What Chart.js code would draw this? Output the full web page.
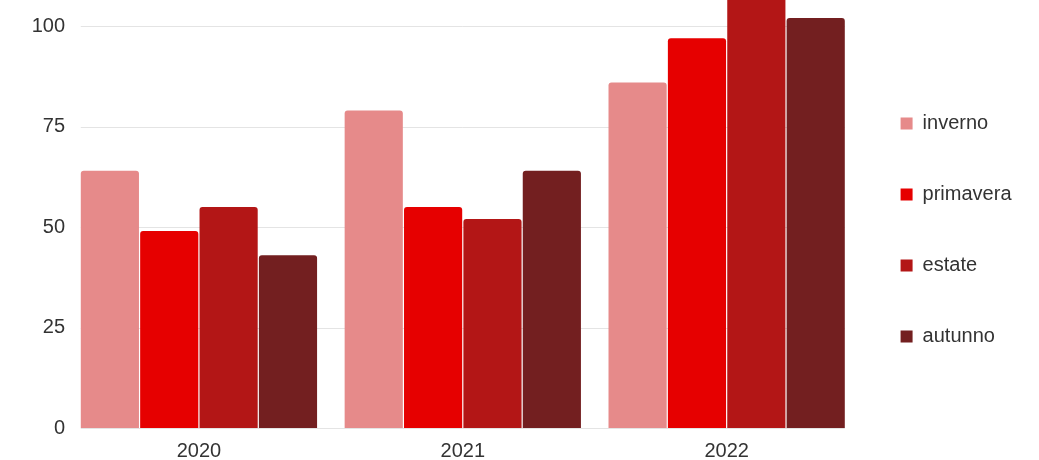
<!DOCTYPE html>
<html>
<head>
<meta charset="utf-8">
<script src="https://cdn.jsdelivr.net/npm/chart.js@4/dist/chart.umd.min.js"></script>
<style>
  html, body { margin: 0; padding: 0; background: #fff; }
  #wrap { width: 1039px; height: 460px; }
</style>
</head>
<body>
<div id="wrap"><canvas id="chartCanvas"></canvas></div>
<script>
// data
const anni = ['2020', '2021', '2022'];
const inverno = [64, 79, 86];
const primavera = [49, 55, 97];
const estate = [55, 52, 110];
const autunno = [43, 64, 102];
const yTicks = [0, 25, 50, 75, 100];

const stagioni = [
  { label: 'inverno', data: inverno, color: '#e68a8a' },
  { label: 'primavera', data: primavera, color: '#e60000' },
  { label: 'estate', data: estate, color: '#b31616' },
  { label: 'autunno', data: autunno, color: '#731f20' }
];

// gridlines only under the bars, like the original
const gridPlugin = {
  id: 'gridUnderBars',
  afterLayout(chart) {
    // pull the legend a bit closer to the plot
    chart.legend.left -= 9;
    chart.legend.right -= 9;
  },
  beforeDatasetsDraw(chart) {
    const ctx = chart.ctx;
    const y = chart.scales.y;
    const first = chart.getDatasetMeta(0).data[0];
    const last = chart.getDatasetMeta(3).data[2];
    const x0 = first.x - first.width / 2;
    const x1 = last.x + last.width / 2;
    ctx.save();
    ctx.strokeStyle = '#e4e4e4';
    ctx.lineWidth = 1;
    yTicks.forEach(v => {
      const py = Math.round(y.getPixelForValue(v)) + 0.5;
      ctx.beginPath();
      ctx.moveTo(x0, py);
      ctx.lineTo(x1, py);
      ctx.stroke();
    });
    ctx.restore();
  }
};

Chart.defaults.font.family = '"Liberation Sans", Arial, sans-serif';
Chart.defaults.color = '#333';

const ctx = document.getElementById('chartCanvas').getContext('2d');
new Chart(ctx, {
  type: 'bar',
  data: {
    labels: anni,
    datasets: stagioni.map(s => ({
      label: s.label,
      data: s.data,
      backgroundColor: s.color,
      borderRadius: 3,
      borderSkipped: 'bottom',
      barPercentage: 0.98,
      categoryPercentage: 0.9
    }))
  },
  options: {
    responsive: true,
    maintainAspectRatio: false,
    animation: false,
    layout: { padding: { top: 0, left: 0, right: 8.5, bottom: 0 } },
    scales: {
      x: {
        grid: { display: false, drawTicks: false },
        border: { display: false },
        ticks: { font: { size: 20 }, padding: 11 },
        afterFit(scale) { scale.height = 32; }
      },
      y: {
        min: 0,
        max: 106.5,
        afterBuildTicks(axis) {
          axis.ticks = yTicks.map(v => ({ value: v }));
        },
        grid: { display: false, drawTicks: false },
        border: { display: false },
        ticks: { font: { size: 20 }, padding: 2 },
        afterFit(scale) {
          scale.width = 67;
          scale.paddingTop = 0;
          scale.paddingBottom = 0;
        }
      }
    },
    plugins: {
      legend: {
        position: 'right',
        labels: {
          boxWidth: 12,
          boxHeight: 12,
          padding: 51,
          font: { size: 20 }
        }
      },
      tooltip: { enabled: false }
    }
  },
  plugins: [gridPlugin]
});
</script>
</body>
</html>
